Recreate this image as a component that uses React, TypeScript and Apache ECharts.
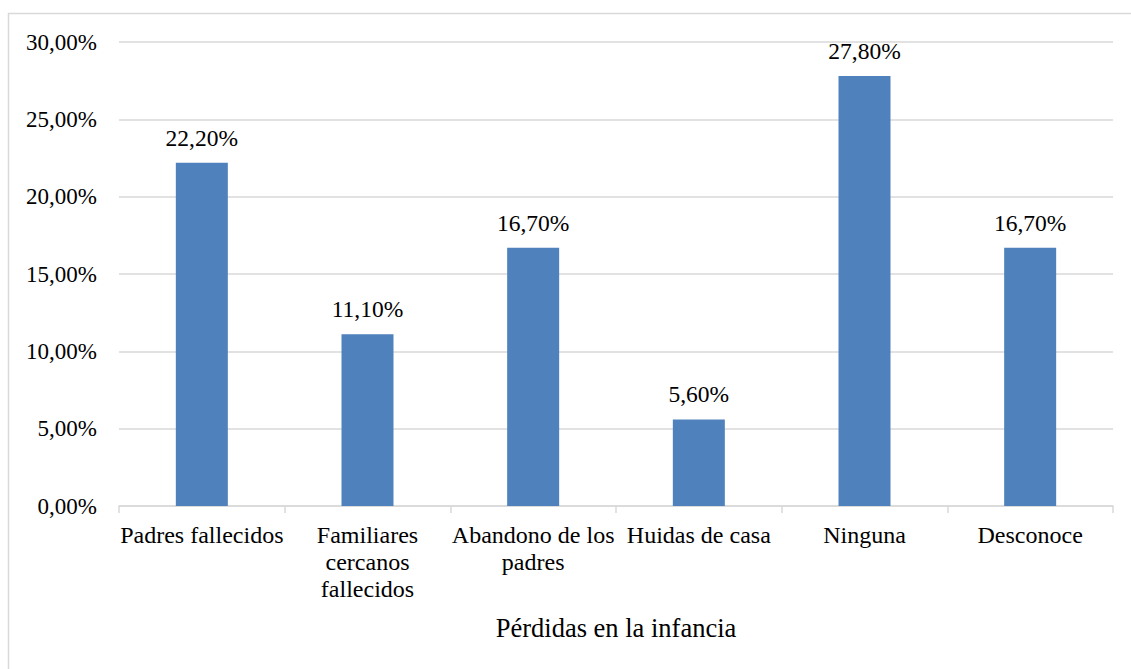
import React, { useEffect, useRef } from "react";
import * as echarts from "echarts";

const categories = [
  "Padres fallecidos",
  "Familiares\ncercanos\nfallecidos",
  "Abandono de los\npadres",
  "Huidas de casa",
  "Ninguna",
  "Desconoce",
];
const values = [22.2, 11.1, 16.7, 5.6, 27.8, 16.7];
const axisTitle = "Pérdidas en la infancia";
const yMin = 0;
const yMax = 30;
const yInterval = 5;

const FONT = "Liberation Serif";
const fmt = (v: number) => v.toFixed(2).replace(".", ",") + "%";

export default function App() {
  const ref = useRef<HTMLDivElement>(null);
  useEffect(() => {
    document.body.style.margin = "0";
    const chart = echarts.init(ref.current!, null, { renderer: "svg" });
    chart.setOption({
      animation: false,
      backgroundColor: "#ffffff",
      textStyle: { fontFamily: FONT },
      graphic: [
        {
          type: "rect",
          shape: { x: 8.5, y: 13.5, width: 1200, height: 800 },
          style: { fill: "none", stroke: "#D9D9D9", lineWidth: 1.5 },
          silent: true,
          z: -10,
        },
      ],
      grid: { left: 119, right: 18, top: 42, bottom: 163, containLabel: false },
      xAxis: {
        type: "category",
        data: categories,
        name: axisTitle,
        nameLocation: "middle",
        nameGap: 108,
        nameTextStyle: { fontFamily: FONT, fontSize: 26.5, color: "#000" },
        axisLine: { show: true, lineStyle: { color: "#D9D9D9", width: 1.5 } },
        axisTick: { show: true, length: 7, lineStyle: { color: "#D9D9D9", width: 1.5 } },
        axisLabel: {
          interval: 0,
          margin: 15,
          fontFamily: FONT,
          fontSize: 24,
          lineHeight: 27,
          color: "#000",
          align: "center",
        },
      },
      yAxis: {
        type: "value",
        min: yMin,
        max: yMax,
        interval: yInterval,
        axisLine: { show: false },
        axisTick: { show: false },
        splitLine: { lineStyle: { color: "#D9D9D9", width: 1.5 } },
        axisLabel: {
          margin: 22,
          fontFamily: FONT,
          fontSize: 23,
          color: "#000",
          formatter: (v: number) => fmt(v),
        },
      },
      series: [
        {
          type: "bar",
          data: values,
          barWidth: 52,
          itemStyle: { color: "#4F81BD" },
          label: {
            show: true,
            position: "top",
            distance: 13,
            fontFamily: FONT,
            fontSize: 23.5,
            color: "#000",
            formatter: (p: any) => fmt(p.value),
          },
        },
      ],
    });
    return () => chart.dispose();
  }, []);
  return <div ref={ref} style={{ width: 1131, height: 669 }} />;
}
